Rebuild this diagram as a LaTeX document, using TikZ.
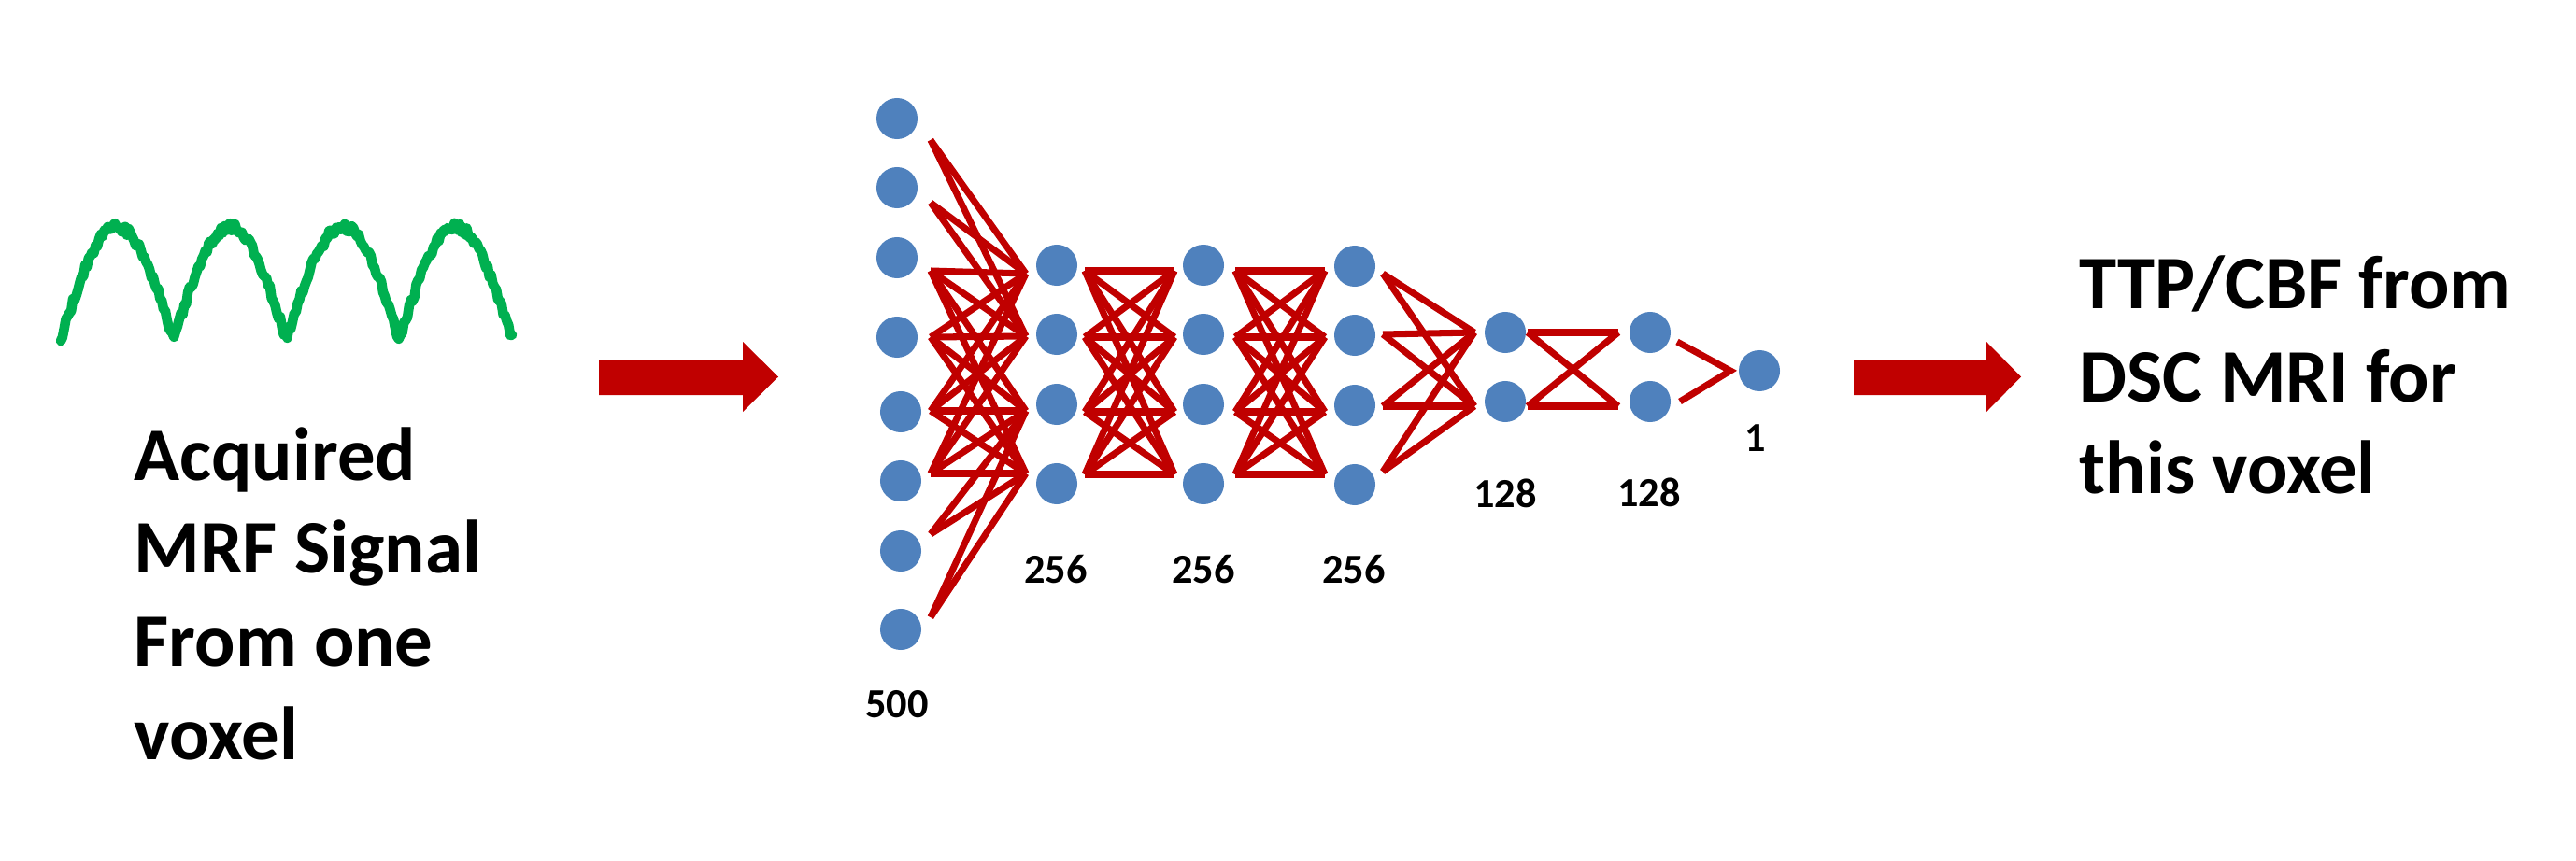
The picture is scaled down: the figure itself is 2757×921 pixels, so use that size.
\documentclass[tikz,border=0pt]{standalone}
\usepackage{fontspec}
\setmainfont{Carlito}
\definecolor{nnblue}{HTML}{4F81BD}
\definecolor{nnred}{HTML}{C00000}
\definecolor{siggreen}{HTML}{00B050}
\begin{document}
\begin{tikzpicture}[x=0.01cm, y=-0.01cm,
  neuron/.style={circle, fill=nnblue, inner sep=0pt, minimum size=0.44cm},
  edge/.style={draw=nnred, line width=2pt},
  signal/.style={draw=siggreen, line width=3pt, line join=round, line cap=round},
  bigtext/.style={font=\fontsize{23}{28}\selectfont\bfseries, inner sep=0pt, anchor=base west},
  count/.style={font=\fontsize{12.6}{15}\selectfont\bfseries, inner sep=0pt, anchor=base},
  flow/.style={fill=nnred}]
\useasboundingbox (0,0) rectangle (2757,921);

% acquired signal
\pgfmathsetseed{12}
\draw[signal] plot[domain=0:483, samples=260] ({65+\x},{363-120*abs(sin(\x/120.75*180))+4.5*rand});

% texts
\node[bigtext] (l1) at (143,514) {Acquired};
\node[bigtext] (l2) at (143,613) {MRF Signal};
\node[bigtext] (l3) at (143,713) {From one};
\node[bigtext] (l4) at (143,813) {voxel};
\node[bigtext] (r1) at (2225,330) {TTP/CBF from};
\node[bigtext] (r2) at (2225,430) {DSC MRI for};
\node[bigtext] (r3) at (2225,528) {this voxel};

% block arrows
\fill[flow] (641,385) -- (795,385) -- (795,366) -- (833,403.5) -- (795,441) -- (795,423) -- (641,423) -- cycle;
\fill[flow] (1984,385) -- (2126,385) -- (2126,366) -- (2163,403.5) -- (2126,441) -- (2126,423) -- (1984,423) -- cycle;

% neurons
\foreach \y [count=\i] in {127,201,276,361,441,515,590,674} {
  \pgfmathsetmacro{\xx}{\i>4 ? 964 : 960}
  \node[neuron] (a\i) at (\xx,\y) {};
}
\foreach \y [count=\i] in {284,358,433,518} {
  \node[neuron] (b\i) at (1131,\y) {};
  \node[neuron] (c\i) at (1288,\y) {};
  \node[neuron] (d\i) at (1450,\y+1) {};
}
\node[neuron] (e1) at (1611,356) {};
\node[neuron] (e2) at (1611,430) {};
\node[neuron] (f1) at (1766,356) {};
\node[neuron] (f2) at (1766,430) {};
\node[neuron] (g1) at (1883,397) {};

% connection end points
\foreach \y [count=\i] in {150,217,290,361,440,507,572,661}
  \coordinate (p\i) at (996,\y);
\foreach \y [count=\i] in {293,360,440,507} {
  \coordinate (q\i) at (1098,\y);
}
\foreach \y [count=\i] in {290,361,441,508} {
  \coordinate (s\i) at (1161,\y);
  \coordinate (t\i) at (1257,\y);
  \coordinate (u\i) at (1322,\y);
  \coordinate (v\i) at (1418,\y);
}
\foreach \y [count=\i] in {293,358,435,505}
  \coordinate (w\i) at (1480,\y);
\coordinate (x1) at (1578,356);
\coordinate (x2) at (1578,435);
\coordinate (y1) at (1635,356);
\coordinate (y2) at (1635,435);
\coordinate (z1) at (1732,356);
\coordinate (z2) at (1732,435);
\coordinate (o1) at (1795,366);
\coordinate (o2) at (1798,430);
\coordinate (o3) at (1852,397);

% connections
\foreach \i in {1,2} \foreach \j in {1,2} \draw[edge] (p\i) -- (q\j);
\foreach \i in {3,...,6} \foreach \j in {1,...,4} \draw[edge] (p\i) -- (q\j);
\foreach \i in {7,8} \foreach \j in {3,4} \draw[edge] (p\i) -- (q\j);
\foreach \i in {1,...,4} \foreach \j in {1,...,4} {
  \draw[edge] (s\i) -- (t\j);
  \draw[edge] (u\i) -- (v\j);
}
\foreach \i in {1,...,4} \foreach \j in {1,2} \draw[edge] (w\i) -- (x\j);
\foreach \i in {1,2} \foreach \j in {1,2} \draw[edge] (y\i) -- (z\j);
\draw[edge] (o1) -- (o3) -- (o2);

% layer sizes
\node[count] (n0) at (960,768) {500};
\node[count] (n1) at (1130,624) {256};
\node[count] (n2) at (1288,624) {256};
\node[count] (n3) at (1449,624) {256};
\node[count] (n4) at (1611,543) {128};
\node[count] (n5) at (1765,542) {128};
\node[count] (n6) at (1879,483) {1};
\end{tikzpicture}
\end{document}
